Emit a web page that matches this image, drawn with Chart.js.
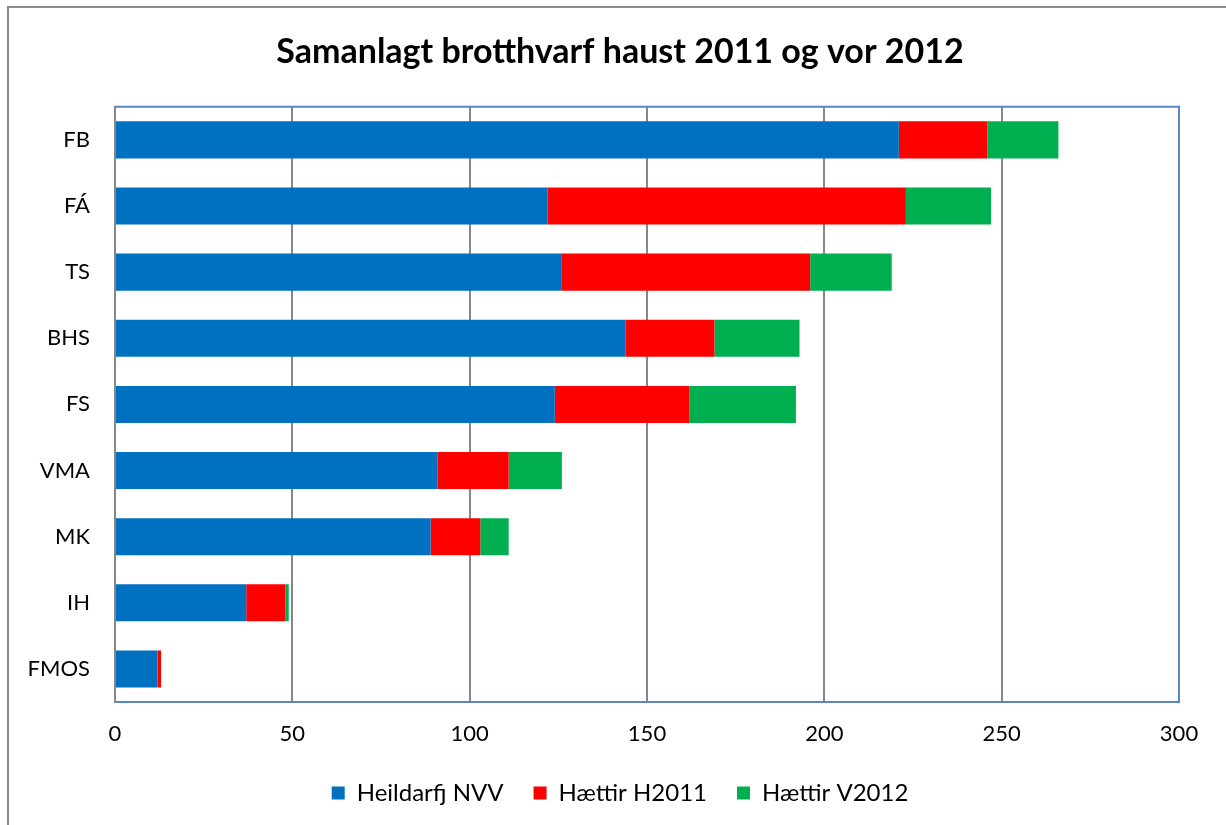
<!DOCTYPE html>
<html>
<head>
<meta charset="utf-8">
<script src="https://cdn.jsdelivr.net/npm/chart.js@4.4.1/dist/chart.umd.min.js"></script>
<style>
  html, body { margin: 0; padding: 0; background: #fff; }
  .wrap { position: relative; width: 1226px; height: 825px; }
  .frame { position: absolute; left: 7px; top: 6px; right: -10px; bottom: -10px;
           border-left: 2px solid #8a8a8a; border-top: 2px solid #8a8a8a; }
  canvas { position: absolute; left: 0; top: 0; }
</style>
</head>
<body>
<div class="wrap">
  <div class="frame"></div>
  <canvas class="js-chart" width="1226" height="825"></canvas>
</div>
<script>
const labels = ['FB', 'FÁ', 'TS', 'BHS', 'FS', 'VMA', 'MK', 'IH', 'FMOS'];
const heildarfj = [221, 122, 126, 144, 124, 91, 89, 37, 12];
const haettirH2011 = [25, 101, 70, 25, 38, 20, 14, 11, 1];
const haettirV2012 = [20, 24, 23, 24, 30, 15, 8, 1, 0];
const xTicks = [0, 50, 100, 150, 200, 250, 300];

const fontFamily = 'Lato, "Open Sans", sans-serif';

// blue frame around the plot area (top and right sides)
const plotFrame = {
  id: 'plotFrame',
  afterDraw(chart) {
    const { ctx, chartArea: a } = chart;
    ctx.save();
    ctx.strokeStyle = '#5a86c4';
    ctx.lineWidth = 2;
    ctx.beginPath();
    ctx.moveTo(a.left, a.top);
    ctx.lineTo(a.right, a.top);
    ctx.lineTo(a.right, a.bottom);
    ctx.stroke();
    ctx.restore();
  }
};

const ctx = document.querySelector('.js-chart').getContext('2d');

new Chart(ctx, {
  type: 'bar',
  data: {
    labels: labels,
    datasets: [
      { label: 'Heildarfj NVV', data: heildarfj, backgroundColor: '#0070c0' },
      { label: 'Hættir H2011', data: haettirH2011, backgroundColor: '#ff0000' },
      { label: 'Hættir V2012', data: haettirV2012, backgroundColor: '#00b050' }
    ]
  },
  options: {
    indexAxis: 'y',
    responsive: false,
    animation: false,
    categoryPercentage: 0.56,
    barPercentage: 1,
    layout: { padding: { left: 14, right: 0, top: 0, bottom: 10 } },
    scales: {
      x: {
        stacked: true,
        min: 0,
        max: 300,
        afterBuildTicks: (scale) => { scale.ticks = xTicks.map(v => ({ value: v })); },
        afterFit: (scale) => {
          scale.paddingRight = 47;
          scale.height = 49;
        },
        grid: { color: '#878787', lineWidth: 2, drawTicks: false },
        border: { color: '#5a86c4', width: 2 },
        ticks: { color: '#000', font: { family: fontFamily, size: 22 }, padding: 19 }
      },
      y: {
        stacked: true,
        afterFit: (scale) => { scale.width = 101; },
        grid: { display: false },
        border: { color: '#878787', width: 2 },
        ticks: { color: '#000', font: { family: fontFamily, size: 22 }, padding: 17 }
      }
    },
    plugins: {
      title: {
        display: true,
        text: 'Samanlagt brotthvarf haust 2011 og vor 2012',
        color: '#000',
        font: { family: fontFamily, size: 34, weight: 'bold' },
        padding: { top: 32, bottom: 34 }
      },
      legend: {
        position: 'bottom',
        labels: {
          color: '#000',
          font: { family: fontFamily, size: 24 },
          boxWidth: 13,
          boxHeight: 13,
          padding: 30
        }
      },
      tooltip: { enabled: false }
    }
  },
  plugins: [plotFrame]
});
</script>
</body>
</html>
